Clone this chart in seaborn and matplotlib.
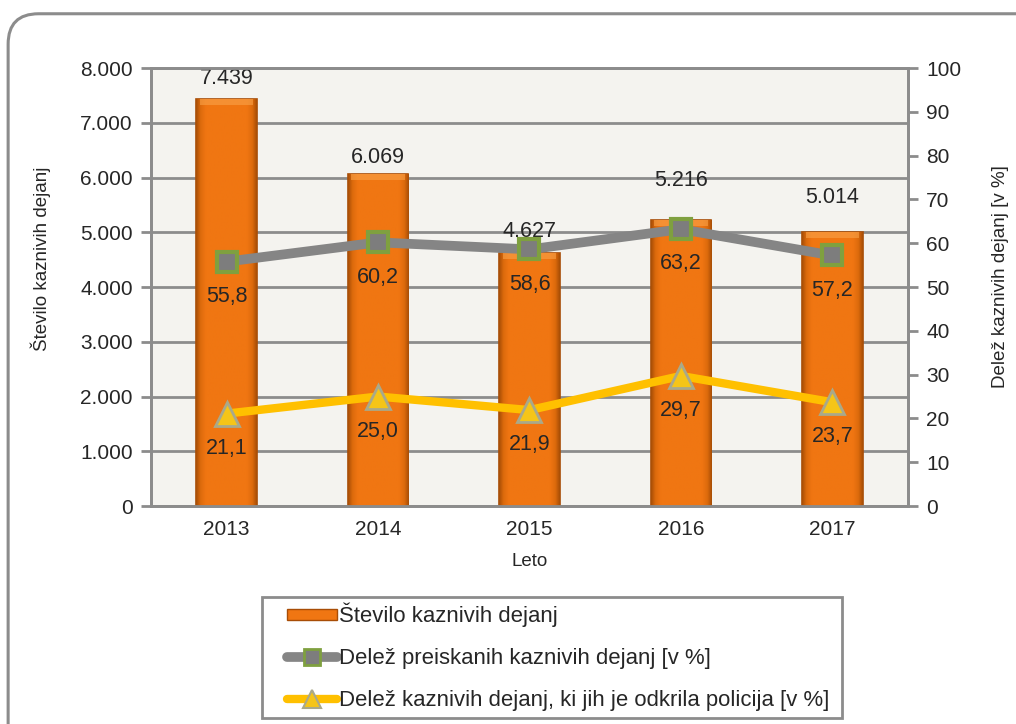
import numpy as np
import matplotlib
matplotlib.use("Agg")
import matplotlib.pyplot as plt
import seaborn as sns
import pandas as pd
from matplotlib.patches import FancyBboxPatch, Patch, Rectangle
from matplotlib.lines import Line2D
from matplotlib.colors import LinearSegmentedColormap

years = ["2013", "2014", "2015", "2016", "2017"]
crimes = [7439, 6069, 4627, 5216, 5014]
share_investigated = [55.8, 60.2, 58.6, 63.2, 57.2]
share_police = [21.1, 25.0, 21.9, 29.7, 23.7]

lbl_bar = "Število kaznivih dejanj"
lbl_gray = "Delež preiskanih kaznivih dejanj [v %]"
lbl_yellow = "Delež kaznivih dejanj, ki jih je odkrila policija [v %]"

# label nudges above bars (pixels), as placed in the original
bar_label_gap = [20, 16, 21, 40, 34]

sns.set_style("white")
plt.rcParams["font.family"] = ["Liberation Sans", "DejaVu Sans"]

ORANGE = "#f07612"
GRAY = "#858585"
YELLOW = "#ffc000"
GRID = "#8c8c8c"

fig = plt.figure(figsize=(10.16, 7.24), dpi=100)
ax = fig.add_axes([0.1486, 0.3011, 0.7451, 0.6049])
ax.set_facecolor("#f4f3ef")

# outer rounded frame
frame = FancyBboxPatch((0.008, -0.05), 1.2, 1.031, boxstyle="round,pad=0,rounding_size=0.03",
                       transform=fig.transFigure, fill=False, edgecolor="#8c8c8c", lw=2.2,
                       mutation_aspect=1.4)
fig.patches.append(frame)

df = pd.DataFrame({"Leto": years, "n": crimes})
sns.barplot(data=df, x="Leto", y="n", color=ORANGE, width=0.4, ax=ax,
            edgecolor="#a84d06", linewidth=1.2, saturation=1, zorder=3)

# cylinder-like shading on the bars
shade = LinearSegmentedColormap.from_list(
    "shade", [(0, "#a84e06"), (0.07, "#dc6a0c"), (0.16, "#f07612"), (0.84, "#f07612"),
              (0.93, "#dc6a0c"), (1, "#a84e06")])
grad = np.linspace(0, 1, 128).reshape(1, -1)
for p in ax.patches:
    x0, y0, w, h = p.get_x(), p.get_y(), p.get_width(), p.get_height()
    im = ax.imshow(grad, extent=(x0, x0 + w, y0, y0 + h), cmap=shade, aspect="auto",
                   zorder=3.2, interpolation="bilinear")
    im.set_clip_path(p)
    ax.bar(x0 + w / 2, 110, bottom=y0 + h - 110, width=w * 0.88, color="#f9a34a",
           alpha=0.6, zorder=3.3, linewidth=0)

ax.set_ylim(0, 8000)
ax.set_xlim(-0.5, 4.5)
ax.set_yticks(np.arange(0, 8001, 1000))
ax.set_yticklabels([f"{int(v):,}".replace(",", ".") for v in np.arange(0, 8001, 1000)])
ax.yaxis.grid(True, color=GRID, lw=2, zorder=0)
ax.set_axisbelow(True)
ax.set_xticks(np.arange(-0.5, 4.6, 1), minor=True)
ax.tick_params(axis="x", which="major", length=0, labelsize=15, pad=10)
ax.tick_params(axis="x", which="minor", length=6, width=2, color=GRID)
ax.tick_params(axis="y", length=7, width=2, color=GRID, labelsize=15, pad=6, left=True)
for s in ax.spines.values():
    s.set_color(GRID)
    s.set_linewidth(2)
ax.set_xlabel("Leto", fontsize=13.5, labelpad=10)
ax.set_ylabel(lbl_bar, fontsize=13.5)
ax.yaxis.set_label_coords(-0.132, 0.564)

for i, v in enumerate(crimes):
    ax.annotate(f"{v:,}".replace(",", "."), (i, v), xytext=(0, bar_label_gap[i] * 0.72),
                textcoords="offset points", ha="center", va="center", fontsize=15.5)

ax2 = ax.twinx()
ax2.set_ylim(0, 100)
ax2.set_yticks(np.arange(0, 101, 10))
ax2.tick_params(axis="y", length=7, width=2, color=GRID, labelsize=15, pad=6)
for s in ax2.spines.values():
    s.set_color(GRID)
    s.set_linewidth(2)
ax2.set_ylabel("Delež kaznivih dejanj [v %]", fontsize=13.5)
ax2.yaxis.set_label_coords(1.111, 0.525)

x = np.arange(len(years))
ax2.plot(x, share_investigated, color=GRAY, lw=7, marker="s", ms=15,
         mfc="#7d7d7d", mec="#7fa03f", mew=3, zorder=4)
ax2.plot(x, share_police, color=YELLOW, lw=6, marker="^", ms=17,
         mfc="#f5c518", mec="#a9a98a", mew=2, zorder=4)

for series in (share_investigated, share_police):
    for i, v in enumerate(series):
        ax2.annotate(f"{v:.1f}".replace(".", ","), (i, v), xytext=(0, -25),
                     textcoords="offset points", ha="center", va="center", fontsize=15.5)

# legend box drawn separately so the entries can sit inset like the original
fig.patches.append(Rectangle((0.2579, 0.0083), 0.5709, 0.1671, transform=fig.transFigure,
                             fill=False, edgecolor="#8c8c8c", lw=2))
handles = [
    Patch(facecolor=ORANGE, edgecolor="#a84d06"),
    Line2D([0], [0], color=GRAY, lw=7, marker="s", ms=12, mfc="#7d7d7d", mec="#7fa03f", mew=2),
    Line2D([0], [0], color=YELLOW, lw=6, marker="^", ms=13, mfc="#f5c518", mec="#a9a98a", mew=1.5),
]
fig.legend(handles, [lbl_bar, lbl_gray, lbl_yellow], loc="upper left",
           bbox_to_anchor=(0.2825, 0.1678), fontsize=15.9, frameon=False,
           handlelength=2.25, handleheight=0.4, handletextpad=0.1,
           labelspacing=0.95, borderpad=0, borderaxespad=0)

fig.savefig("out.png", dpi=100)
